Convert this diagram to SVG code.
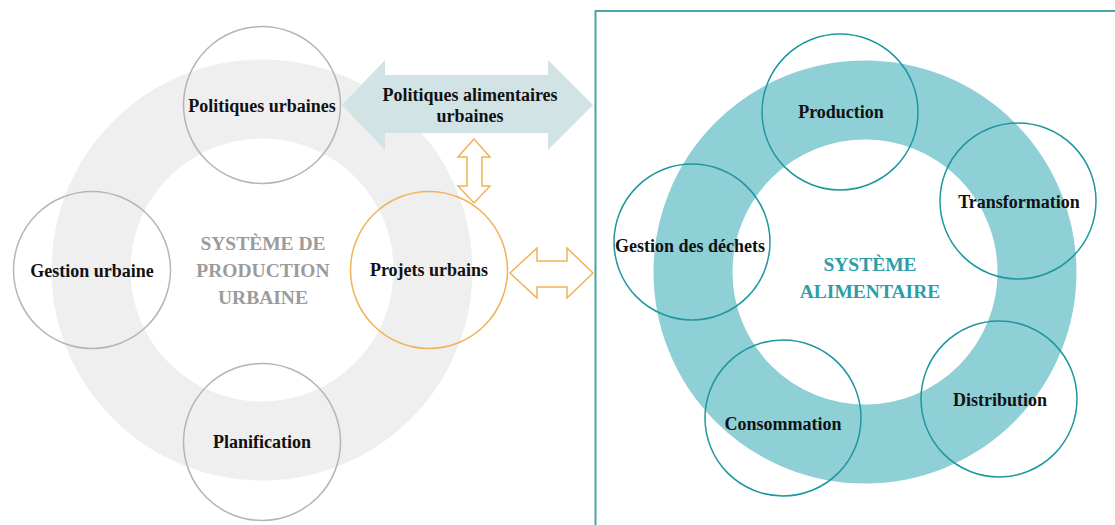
<svg xmlns="http://www.w3.org/2000/svg" width="1115" height="525" viewBox="0 0 1115 525">
<style>
.lbl{font-family:"Liberation Serif","Times New Roman",serif;font-weight:bold;font-size:18px;fill:#111;text-anchor:middle}
.gnode{fill:none;stroke:#b5b5b5;stroke-width:1.5}
.tnode{fill:none;stroke:#1e979e;stroke-width:1.5}
.big{font-family:"Liberation Serif","Times New Roman",serif;font-weight:bold;font-size:19.5px;text-anchor:middle}
.dbl{fill:#fff;stroke:#f2b257;stroke-width:1.5;stroke-linejoin:miter}
</style>
<rect width="1115" height="525" fill="#fff"/>
<g id="left-system">
<circle cx="262" cy="270" r="171" fill="none" stroke="#efefef" stroke-width="79"/>
<text class="big" fill="#9b9b9b" x="263" y="250">SYSTÈME DE</text>
<text class="big" fill="#9b9b9b" x="263" y="277">PRODUCTION</text>
<text class="big" fill="#9b9b9b" x="263" y="304">URBAINE</text>
</g>
<g id="right-box">
<rect x="595.5" y="11" width="600" height="600" fill="none" stroke="#4aa3a8" stroke-width="2"/>
</g>
<g id="right-system">
<circle cx="865" cy="272" r="172" fill="none" stroke="#8fcfd6" stroke-width="79"/>
<text class="big" fill="#2b9ea6" x="870" y="271">SYSTÈME</text>
<text class="big" fill="#2b9ea6" x="870" y="298">ALIMENTAIRE</text>
</g>
<g id="connectors">
<polygon id="arrow-politiques-alimentaires" fill="#d2e3e6" points="342,105 385,60 385,75 548,75 548,60 593,105 548,150 548,133 385,133 385,150"/>
<polygon id="arrow-vertical" class="dbl" points="474,139 490,157 482,157 482,186 490,186 474,203 458,186 467,186 467,157 458,157"/>
<polygon id="arrow-horizontal" class="dbl" points="510,273 537,248 537,261 567,261 567,248 593,273 567,298 567,287 537,287 537,298"/>
</g>
<g id="label-politiques-alimentaires">
<text class="lbl" x="470" y="101">Politiques alimentaires</text>
<text class="lbl" x="470" y="122">urbaines</text>
</g>
<g id="node-politiques-urbaines">
<circle class="gnode" cx="262" cy="105" r="78.5"/>
<text class="lbl" x="262" y="112">Politiques urbaines</text>
</g>
<g id="node-gestion-urbaine">
<circle class="gnode" cx="92" cy="270" r="78.5"/>
<text class="lbl" x="92" y="277">Gestion urbaine</text>
</g>
<g id="node-planification">
<circle class="gnode" cx="262" cy="442" r="78.5"/>
<text class="lbl" x="262" y="448">Planification</text>
</g>
<g id="node-projets-urbains">
<circle cx="429" cy="270" r="78.5" fill="none" stroke="#f2b257" stroke-width="1.5"/>
<text class="lbl" x="429" y="276">Projets urbains</text>
</g>
<g id="node-production">
<circle class="tnode" cx="840" cy="112" r="78"/>
<text class="lbl" x="841" y="118">Production</text>
</g>
<g id="node-transformation">
<circle class="tnode" cx="1018" cy="201" r="78"/>
<text class="lbl" x="1019" y="208">Transformation</text>
</g>
<g id="node-gestion-dechets">
<circle class="tnode" cx="692" cy="242" r="78"/>
<text class="lbl" x="690" y="252">Gestion des déchets</text>
</g>
<g id="node-consommation">
<circle class="tnode" cx="783" cy="418" r="78"/>
<text class="lbl" x="783" y="430">Consommation</text>
</g>
<g id="node-distribution">
<circle class="tnode" cx="999" cy="399" r="78"/>
<text class="lbl" x="1000" y="406">Distribution</text>
</g>
</svg>
